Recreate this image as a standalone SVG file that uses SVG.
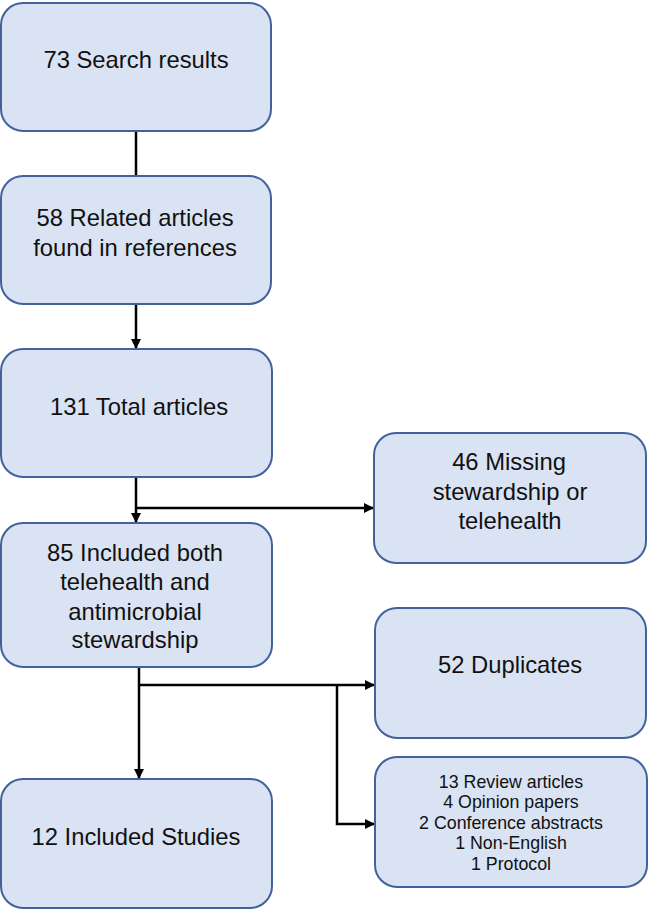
<svg xmlns="http://www.w3.org/2000/svg" width="651" height="910" viewBox="0 0 651 910">
<style>
.box{fill:#dae3f3;stroke:#41629b;stroke-width:2}
.t{font-family:"Liberation Sans",Arial,sans-serif;font-size:23.8px;fill:#111;text-anchor:middle}
.s{font-family:"Liberation Sans",Arial,sans-serif;font-size:17.8px;fill:#111;text-anchor:middle}
.c{fill:none;stroke:#000;stroke-width:2.5}
</style>
<defs>
<marker id="ah" markerWidth="10" markerHeight="10" refX="9" refY="5" orient="auto" markerUnits="userSpaceOnUse" viewBox="0 0 10 10">
<path d="M0,0 L10,5 L0,10 z" fill="#000"/>
</marker>
</defs>
<g id="connectors">
<line class="c" x1="136" y1="131" x2="136" y2="176"/>
<line class="c" x1="136" y1="304" x2="136" y2="348" marker-end="url(#ah)"/>
<line class="c" x1="136" y1="477" x2="136" y2="522" marker-end="url(#ah)"/>
<line class="c" x1="136" y1="508" x2="373" y2="508" marker-end="url(#ah)"/>
<line class="c" x1="139" y1="667" x2="139" y2="778" marker-end="url(#ah)"/>
<line class="c" x1="139" y1="685" x2="374" y2="685" marker-end="url(#ah)"/>
<polyline class="c" points="337,685 337,824 374,824" marker-end="url(#ah)"/>
</g>
<g id="n1"><rect class="box" x="1" y="3" width="270" height="128" rx="22"/><text class="t" x="136" y="68">73 Search results</text></g>
<g id="n2"><rect class="box" x="1" y="176" width="270" height="128" rx="22"/><text class="t" x="135" y="226">58 Related articles</text><text class="t" x="135" y="256">found in references</text></g>
<g id="n3"><rect class="box" x="1" y="349" width="271" height="128" rx="22"/><text class="t" x="139" y="415">131 Total articles</text></g>
<g id="n4"><rect class="box" x="1" y="523" width="271" height="144" rx="22"/><text class="t" x="135" y="561">85 Included both</text><text class="t" x="135" y="590">telehealth and</text><text class="t" x="135" y="620">antimicrobial</text><text class="t" x="135" y="648">stewardship</text></g>
<g id="n5"><rect class="box" x="1" y="779" width="271" height="129" rx="22"/><text class="t" x="136" y="845">12 Included Studies</text></g>
<g id="n6"><rect class="box" x="374" y="433" width="272" height="130" rx="22"/><text class="t" x="509" y="470">46 Missing</text><text class="t" x="510" y="500">stewardship or</text><text class="t" x="510" y="529">telehealth</text></g>
<g id="n7"><rect class="box" x="375" y="608" width="271" height="130" rx="22"/><text class="t" x="510" y="673">52 Duplicates</text></g>
<g id="n8"><rect class="box" x="375" y="757" width="272" height="130" rx="22"/><text class="s" x="511" y="788">13 Review articles</text><text class="s" x="511" y="808">4 Opinion papers</text><text class="s" x="511" y="829">2 Conference abstracts</text><text class="s" x="511" y="849">1 Non-English</text><text class="s" x="511" y="870">1 Protocol</text></g>
</svg>
